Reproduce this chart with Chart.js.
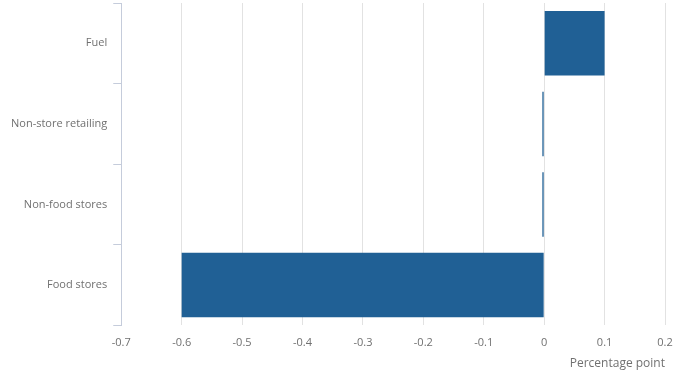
<!DOCTYPE html>
<html>
<head>
<meta charset="utf-8">
<script src="https://cdn.jsdelivr.net/npm/chart.js@4"></script>
<style>
  html, body { margin: 0; padding: 0; background: #fff; }
  #wrap { width: 678px; height: 377px; }
</style>
</head>
<body>
<div id="wrap"><canvas id="chart"></canvas></div>
<script>
// Chart data
const categories = ['Fuel', 'Non-store retailing', 'Non-food stores', 'Food stores'];
const contributions = [0.1, -0.003, -0.003, -0.6];
const xMin = -0.7;
const xMax = 0.2;
const xStep = 0.1;

const axisGrey = '#c5ccdb';
const textGrey = '#707070';

Chart.defaults.font.family = '"Open Sans", sans-serif';
Chart.defaults.font.size = 11;
Chart.defaults.color = textGrey;

const ctx = document.getElementById('chart').getContext('2d');
new Chart(ctx, {
    type: 'bar',
    data: {
        labels: categories,
        datasets: [{
            data: contributions,
            backgroundColor: '#206095',
            categoryPercentage: 0.8,
            barPercentage: 1
        }]
    },
    options: {
        indexAxis: 'y',
        responsive: true,
        maintainAspectRatio: false,
        animation: false,
        layout: { padding: { top: 3, left: 5, right: 13, bottom: 6 } },
        plugins: {
            legend: { display: false },
            tooltip: { enabled: false }
        },
        scales: {
            x: {
                min: xMin,
                max: xMax,
                ticks: {
                    stepSize: xStep,
                    padding: 11,
                    callback: v => Number(v.toFixed(1)).toString()
                },
                grid: {
                    color: '#e2e2e2',
                    drawTicks: false
                },
                border: { display: false },
                title: {
                    display: true,
                    text: 'Percentage point',
                    align: 'end',
                    font: { size: 12 },
                    padding: { top: -4, bottom: 0 }
                },
                afterFit: scale => {
                    scale.paddingLeft = 0;
                    scale.paddingRight = 0;
                }
            },
            y: {
                ticks: { padding: 6 },
                grid: {
                    drawOnChartArea: false,
                    drawTicks: true,
                    tickLength: 8,
                    color: axisGrey
                },
                border: { display: true, color: axisGrey },
                // labels sit mid-band, so no extra room is needed above/below
                afterFit: scale => {
                    scale.paddingTop = 0;
                    scale.paddingBottom = 0;
                }
            }
        }
    }
});
</script>
</body>
</html>
